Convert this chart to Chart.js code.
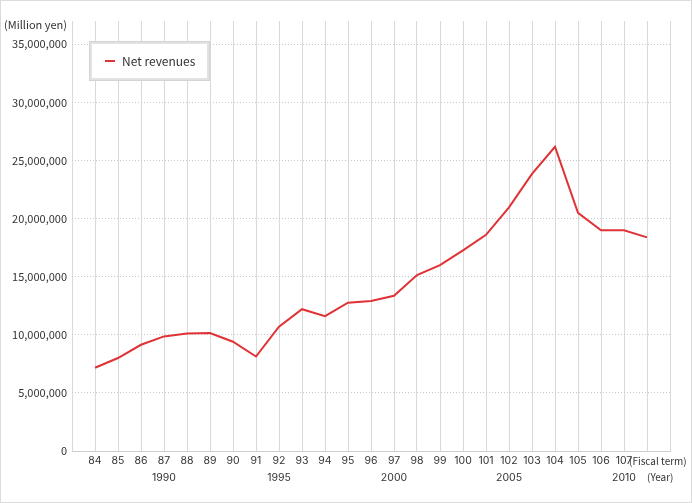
<!DOCTYPE html>
<html>
<head>
<meta charset="utf-8">
<title>Net revenues</title>
<script src="https://cdn.jsdelivr.net/npm/chart.js@4.4.1/dist/chart.umd.min.js"></script>
<style>
  html, body { margin: 0; padding: 0; background: #fff; }
  #wrap { position: relative; width: 692px; height: 503px; }
</style>
</head>
<body>
<div id="wrap"><canvas id="revenue-chart"></canvas></div>
<script>
// Fiscal terms 84..108, net revenues in million yen
const FISCAL_TERMS = [84, 85, 86, 87, 88, 89, 90, 91, 92, 93, 94, 95, 96,
    97, 98, 99, 100, 101, 102, 103, 104, 105, 106, 107, 108];
const NET_REVENUES = [7160000, 8000000, 9140000, 9860000, 10100000, 10150000,
    9400000, 8130000, 10700000, 12200000, 11600000, 12760000, 12900000,
    13360000, 15140000, 16000000, 17270000, 18600000, 20970000, 23850000,
    26180000, 20490000, 18990000, 18990000, 18380000];
// second row of the x axis
const YEAR_TERMS = [87, 92, 97, 102, 107];
const YEAR_LABELS = ['1990', '1995', '2000', '2005', '2010'];
const LAST_LABELED_TERM = 107;
const Y_TICKS = [0, 5000000, 10000000, 15000000, 20000000, 25000000, 30000000, 35000000];

const FONT = '"Noto Sans CJK JP", "Noto Sans", sans-serif';
const TICK_FONT = 'Inter, "Noto Sans CJK JP", sans-serif';
const TEXT_COLOR = '#333';
const LINE_COLOR = '#e03236';

// border, unit captions and legend box
const decorPlugin = {
    id: 'decor',
    afterDraw(chart) {
        const ctx = chart.ctx;
        const x = chart.scales.x;
        ctx.save();

        ctx.strokeStyle = '#dcdcdc';
        ctx.lineWidth = 1;
        ctx.strokeRect(0.5, 0.5, chart.width - 1, chart.height - 1);

        ctx.fillStyle = TEXT_COLOR;
        ctx.font = '11px ' + FONT;
        ctx.textBaseline = 'middle';
        ctx.textAlign = 'right';
        ctx.fillText('(Million yen)', 67, 25);

        ctx.textAlign = 'left';
        ctx.font = '10px ' + FONT;
        ctx.fillText('(Fiscal term)', x.getPixelForValue(LAST_LABELED_TERM) + 5, 461);
        ctx.fillText('(Year)', x.getPixelForValue(LAST_LABELED_TERM + 1), 477.5);

        // legend
        ctx.fillStyle = '#fff';
        ctx.fillRect(90, 42, 119, 38);
        ctx.strokeStyle = '#e2e2e2';
        ctx.lineWidth = 3;
        ctx.strokeRect(90.5, 42.5, 118, 37);
        ctx.strokeStyle = '#d4d4d4';
        ctx.lineWidth = 1;
        ctx.strokeRect(89.5, 41.5, 120, 39);

        ctx.strokeStyle = LINE_COLOR;
        ctx.lineWidth = 2;
        ctx.beginPath();
        ctx.moveTo(105, 61);
        ctx.lineTo(115, 61);
        ctx.stroke();

        ctx.fillStyle = TEXT_COLOR;
        ctx.font = '12px ' + FONT;
        ctx.fillText(chart.data.datasets[0].label, 122, 61);
        ctx.restore();
    }
};

const ctx = document.getElementById('revenue-chart').getContext('2d');
new Chart(ctx, {
    type: 'line',
    data: {
        datasets: [{
            label: 'Net revenues',
            data: FISCAL_TERMS.map((t, i) => ({ x: t, y: NET_REVENUES[i] })),
            borderColor: LINE_COLOR,
            backgroundColor: LINE_COLOR,
            borderWidth: 2,
            pointRadius: 0,
            tension: 0,
            fill: false
        }]
    },
    options: {
        responsive: true,
        maintainAspectRatio: false,
        animation: false,
        layout: { padding: { top: 21, right: 22, bottom: 0, left: 0 } },
        plugins: {
            legend: { display: false },
            tooltip: { enabled: false }
        },
        scales: {
            x: {
                type: 'linear',
                min: 83,
                max: 109,
                afterFit: s => { s.height = 52; },
                grid: { color: '#d9d9d9', drawTicks: false },
                border: { display: true, color: '#cfcfcf' },
                ticks: {
                    stepSize: 1,
                    autoSkip: false,
                    maxRotation: 0,
                    padding: 2,
                    color: TEXT_COLOR,
                    font: { family: TICK_FONT, size: 10.5, lineHeight: 1.55 },
                    callback: value => {
                        if (value < FISCAL_TERMS[0] || value > LAST_LABELED_TERM) return '';
                        const k = YEAR_TERMS.indexOf(value);
                        return k >= 0 ? [String(value), YEAR_LABELS[k]] : String(value);
                    }
                }
            },
            y: {
                min: 0,
                max: 37000000,
                afterFit: s => { s.width = 72; },
                // the step is not a divisor of the max, so set ticks by hand
                afterBuildTicks: s => { s.ticks = Y_TICKS.map(v => ({ value: v })); },
                grid: { color: '#c8c8c8', drawTicks: false },
                border: { display: false, dash: [1, 2] },
                ticks: {
                    autoSkip: false,
                    padding: 5,
                    color: TEXT_COLOR,
                    font: { family: FONT, size: 11 },
                    callback: value => value.toLocaleString('en-US')
                }
            }
        }
    },
    plugins: [decorPlugin]
});
</script>
</body>
</html>
